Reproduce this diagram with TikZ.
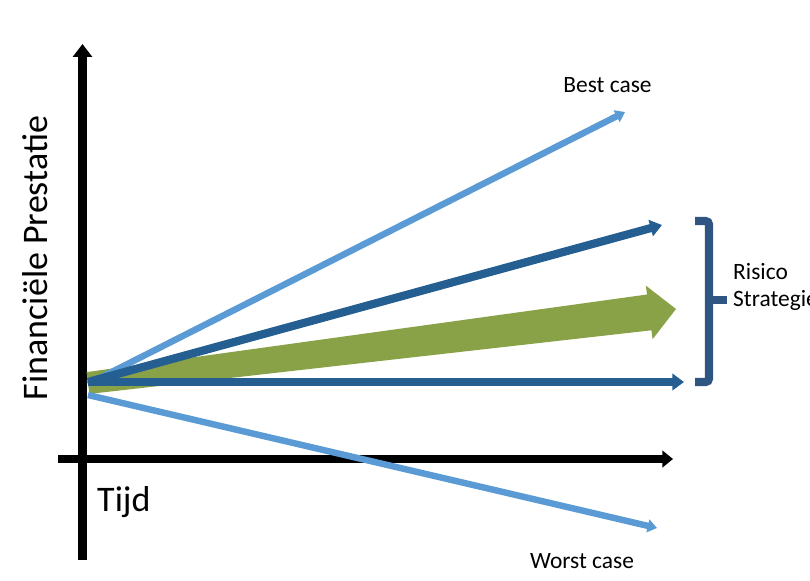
\documentclass[tikz,border=0pt]{standalone}
\usepackage{fontspec}
\setmainfont{Carlito}
\usetikzlibrary{arrows.meta}
\definecolor{lichtblauw}{RGB}{91,155,213}
\definecolor{donkerblauw}{RGB}{37,94,145}
\definecolor{groen}{RGB}{137,162,72}
\definecolor{haak}{RGB}{47,85,130}
\begin{document}
\begin{tikzpicture}[x=0.03cm, y=-0.03cm,
		as/.style={line width=7.5pt, -{Triangle[width=16pt,length=11pt]}},
		licht/.style={lichtblauw, line width=5.5pt, -{Triangle[width=11pt,length=8pt]}},
		donker/.style={donkerblauw, line width=7pt, -{Triangle[width=14pt,length=10pt]}},
		lbl/.style={inner sep=0pt, font=\fontsize{20}{23}\selectfont}]
			\useasboundingbox (0,0) rectangle (810,580);
			\coordinate (O) at (88,382);
			\coordinate (Y) at (82.5,44);
			\coordinate (X) at (673,459);
			\draw[as] (82.5,560) -- (Y);
			\draw[as, line width=7pt, -{Triangle[width=14pt,length=9pt]}] (58,459) -- (X);
			% groene pijl
			\fill[groen] (86.6,372.1) -- (647,294.5) -- (645.8,285.6) -- (676,309) -- (652.6,339.2) -- (651.4,330.3) -- (89.4,393.9) -- cycle;
			\coordinate (B) at (625,112);
			\coordinate (W) at (657,528);
			\draw[licht] ([yshift=-0.06cm]O) -- (B);
			\draw[licht] ([yshift=-0.39cm]O) -- (W);
			\coordinate (D) at (662,225);
			\coordinate (H) at (684,382);
			\draw[donker] (O) -- (D);
			\draw[donker, line width=7.5pt, -{Triangle[width=14pt,length=10pt]}] (O) -- (H);
			% haak
			\draw[haak, line width=7pt, rounded corners=3pt] (695,221) -- (709,221) -- (709,382) -- (695,382);
			\draw[haak, line width=7pt] (709,300) -- (727,300);
			\node[lbl, anchor=base] (best) at (607.5,92.7) {Best case};
			\node[lbl, anchor=base] (worst) at (582,568) {Worst case};
			\node[lbl, anchor=base west, align=left] (risico) at (733,306) {Risico\\Strategie};
			\node[inner sep=0pt, font=\fontsize{30.7}{36}\selectfont, anchor=base west] (tijd) at (97,511) {Tijd};
			\node[inner sep=0pt, font=\fontsize{30.7}{36}\selectfont, rotate=90] (fin) at (35,258) {Financiële Prestatie};
		\end{tikzpicture}
\end{document}
